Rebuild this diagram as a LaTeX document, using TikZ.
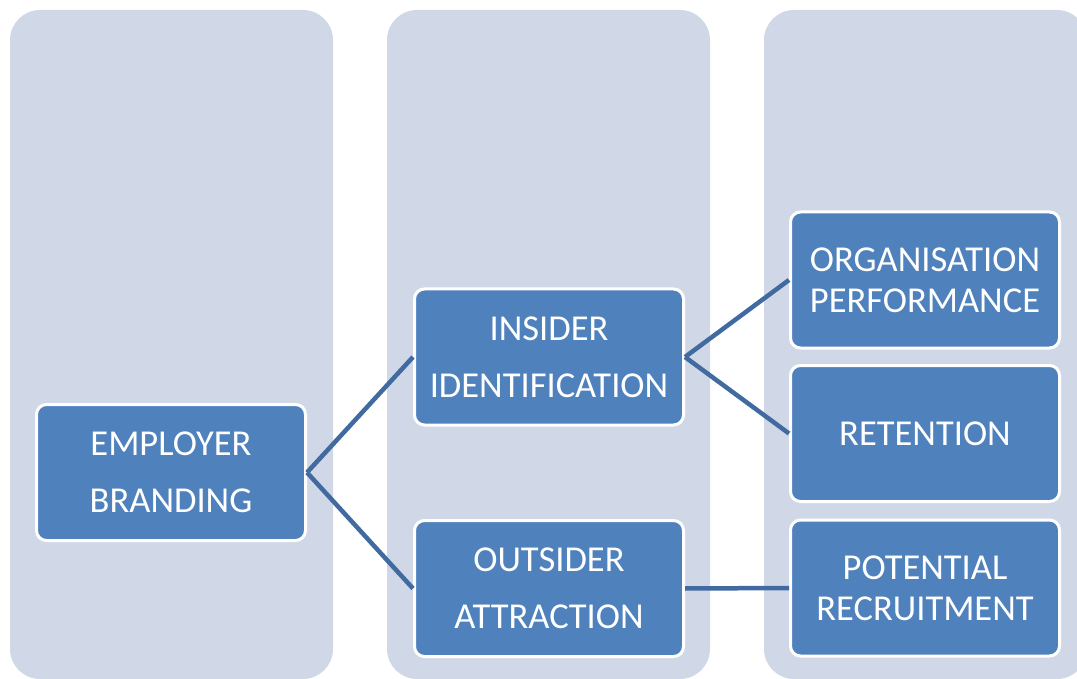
\documentclass[tikz,border=0pt]{standalone}
\usepackage{fontspec}
\setmainfont{Carlito}
\definecolor{colbg}{RGB}{208,216,232}
\definecolor{nodeblue}{RGB}{79,129,189}
\definecolor{linkblue}{RGB}{65,106,160}
\begin{document}
\begin{tikzpicture}[x=1pt,y=-1pt,
  column/.style={fill=colbg, draw=none, rounded corners=30pt},
  boxnode/.style={rectangle, rounded corners=10pt, draw=white, line width=3pt,
    fill=nodeblue, text=white, minimum width=269pt, minimum height=136pt,
    inner sep=0pt, align=center},
  widetext/.style={font=\fontsize{36.5}{57}\selectfont},
  tighttext/.style={font=\fontsize{36.5}{41}\selectfont},
  link/.style={draw=linkblue, line width=4.5pt}]
\useasboundingbox (0,0) rectangle (1077,679);
\begin{scope}
\clip (0,0) rectangle (1077,679);
\fill[column] (10,10) rectangle (333,679);
\fill[column] (387,10) rectangle (710,679);
\fill[column] (764,10) rectangle (1087,679);
\end{scope}
\node[boxnode, widetext] (eb) at (171,472.5) {EMPLOYER\\BRANDING};
\node[boxnode, widetext] (ii) at (549,357) {INSIDER\\IDENTIFICATION};
\node[boxnode, widetext] (oa) at (549,588.5) {OUTSIDER\\ATTRACTION};
\node[boxnode, tighttext] (op) at (925,280) {ORGANISATION\\PERFORMANCE};
\node[boxnode, tighttext] (re) at (925,433.5) {RETENTION};
\node[boxnode, tighttext] (pr) at (925,588) {POTENTIAL\\RECRUITMENT};
\draw[link] (eb.east) -- (ii.west);
\draw[link] (eb.east) -- (oa.west);
\draw[link] (ii.east) -- (op.west);
\draw[link] (ii.east) -- (re.west);
\draw[link] (oa.east) -- (pr.west);
\end{tikzpicture}
\end{document}
